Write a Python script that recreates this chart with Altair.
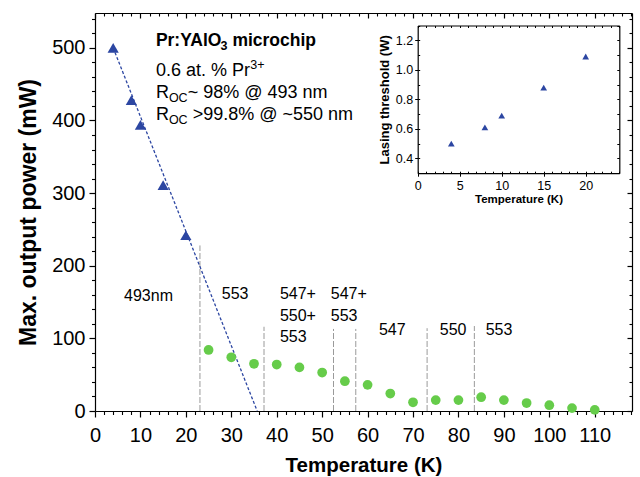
import altair as alt
import pandas as pd

FONT = "Liberation Sans"
BLUE = "#2c46a2"
GREEN = "#66cc4a"

# ---------------- data ----------------
tri_temp = [4, 8, 10, 15, 20]
tri_power = [500, 428, 394, 311, 242]

fit_temp = [4, 35.7]
fit_power = [500, 0]

dot_temp = [25, 30, 35, 40, 45, 50, 55, 60, 65, 70, 75, 80, 85, 90, 95, 100, 105, 110]
dot_power = [84, 74, 65, 64, 60, 53, 41, 36, 24, 12, 15, 15, 19, 15, 11, 8, 4, 1.5]

sep_temp = [23.1, 37.2, 52.5, 57.4, 73.1, 83.5]
sep_top = [228, 116, 113, 113, 114, 117]

wl_text = ["493nm", "553", "547+", "550+", "553", "547+", "553", "547", "550", "553"]
wl_temp = [6.4, 27.9, 40.7, 40.7, 40.7, 51.9, 51.9, 62.5, 75.9, 86.0]
wl_power = [151, 154, 154, 124, 95, 154, 124, 104, 104, 104]

inset_temp = [4, 8, 10, 15, 20]
inset_thr = [0.50, 0.61, 0.69, 0.88, 1.09]

# ---------------- layout ----------------
W, H = 537, 398
XMAX, YMAX = 118.2, 548
UX = XMAX / W   # data units per pixel (x)
UY = YMAX / H   # data units per pixel (y)

xs = alt.Scale(domain=[0, XMAX], nice=False, zero=False)
ys = alt.Scale(domain=[0, YMAX], nice=False, zero=False)

common = dict(grid=False, tickColor="black", domainColor="black",
              labelColor="black", titleColor="black",
              labelFont=FONT, titleFont=FONT)

x_major_vals = list(range(0, 111, 10))
x_minor_vals = [v for v in range(2, 119, 2) if v % 10]
y_major_vals = list(range(0, 501, 100))
y_minor_vals = [v for v in range(20, 548, 20) if v % 100]

ax_x_main = alt.Axis(orient="bottom", values=x_major_vals, tickSize=6, tickWidth=1.2,
                     domainWidth=1.2, labelFontSize=20, labelPadding=8,
                     labelFlush=False, labelOverlap=False,
                     title="Temperature (K)", titleFontSize=20.5, titleFontWeight="bold",
                     titlePadding=10, **common)
ax_y_main = alt.Axis(orient="left", values=y_major_vals, tickSize=6, tickWidth=1.2,
                     domainWidth=1.2, labelFontSize=20, labelPadding=4,
                     labelFlush=False, labelOverlap=False,
                     title="Max. output power (mW)", titleFontSize=23, titleFontWeight="bold",
                     titlePadding=11, **common)
ax_x_minor = alt.Axis(orient="bottom", values=x_minor_vals, tickSize=3.5, tickWidth=1.1,
                      domain=False, labels=False, title=None, **common)
ax_y_minor = alt.Axis(orient="left", values=y_minor_vals, tickSize=3.5, tickWidth=1.1,
                      domain=False, labels=False, title=None, **common)
ax_x_top = alt.Axis(orient="bottom", offset=-H, values=x_major_vals, tickSize=5, tickWidth=1.2,
                    domainWidth=1.2, labels=False, title=None, **common)
ax_x_top_minor = alt.Axis(orient="bottom", offset=-H, values=x_minor_vals, tickSize=3, tickWidth=1.1,
                          domain=False, labels=False, title=None, **common)
ax_y_right = alt.Axis(orient="left", offset=-W, values=y_major_vals, tickSize=5, tickWidth=1.2,
                      domainWidth=1.2, labels=False, title=None, **common)
ax_y_right_minor = alt.Axis(orient="left", offset=-W, values=y_minor_vals, tickSize=3, tickWidth=1.1,
                            domain=False, labels=False, title=None, **common)

dots = pd.DataFrame({"T": dot_temp, "P": dot_power})
tris = pd.DataFrame({"T": tri_temp, "P": tri_power})
fit = pd.DataFrame({"T": fit_temp, "P": fit_power})
seps = pd.DataFrame({"T": sep_temp, "P0": [0] * len(sep_temp), "P1": sep_top})
wls = pd.DataFrame({"T": wl_temp, "P": wl_power, "txt": wl_text})

# annotation block (fragments with sub/superscripts)
ax0 = 13.4
lines_y = [502, 461, 431, 400.5]
frag = [
    # text, line, dx(px), dy(px), size, bold
    ("Pr:YAlO", 0, 0, 0, 17.5, True),
    ("3", 0, 64.5, 4, 12.5, True),
    ("microchip", 0, 76.5, 0, 17.5, True),
    ("0.6 at. % Pr", 1, 0, 0, 18, False),
    ("3+", 1, 94.3, -7, 12.5, False),
    ("R", 2, 0, 0, 18, False),
    ("OC", 2, 13.0, 4, 12.5, False),
    ("~ 98% @ 493 nm", 2, 31.8, 0, 18, False),
    ("R", 3, 0, 0, 18, False),
    ("OC", 3, 13.0, 4, 12.5, False),
    (">99.8% @ ~550 nm", 3, 36.8, 0, 18, False),
]
ann = pd.DataFrame({
    "txt": [f[0] for f in frag],
    "T": [ax0 + f[2] * UX for f in frag],
    "P": [lines_y[f[1]] - f[3] * UY for f in frag],
    "fs": [f[4] for f in frag],
    "bold": [f[5] for f in frag],
})

def X(axis=None):
    return alt.X("T:Q", scale=xs, axis=axis)

def Y(axis=None, field="P"):
    return alt.Y(f"{field}:Q", scale=ys, axis=axis)

l_dots = alt.Chart(dots).mark_circle(size=95, color=GREEN, opacity=1).encode(
    x=X(ax_x_main), y=Y(ax_y_main))
l_fit = alt.Chart(fit).mark_line(color=BLUE, strokeDash=[3, 2], strokeWidth=1.3).encode(
    x=X(), y=Y())
l_tris = alt.Chart(tris).mark_point(shape="triangle-up", size=125, filled=True,
                                     color=BLUE, opacity=1).encode(x=X(), y=Y())
l_seps = alt.Chart(seps).mark_rule(color="#9a9a9a", strokeDash=[6, 2], strokeWidth=1).encode(
    x=X(), y=Y(field="P0"), y2="P1:Q")
l_wl = alt.Chart(wls).mark_text(align="left", baseline="alphabetic", font=FONT,
                                fontSize=16, color="black").encode(
    x=X(), y=Y(), text="txt:N")
l_ann_b = alt.Chart(ann[ann["bold"]]).mark_text(align="left", baseline="alphabetic", font=FONT,
                                                fontWeight="bold", color="black").encode(
    x=X(), y=Y(), text="txt:N", size=alt.Size("fs:Q", scale=None, legend=None))
l_ann_n = alt.Chart(ann[~ann["bold"]]).mark_text(align="left", baseline="alphabetic", font=FONT,
                                                 color="black").encode(
    x=X(), y=Y(), text="txt:N", size=alt.Size("fs:Q", scale=None, legend=None))
l_minor = alt.Chart(dots).mark_point(opacity=0).encode(x=X(ax_x_minor), y=Y(ax_y_minor))
l_frame = alt.Chart(dots).mark_point(opacity=0).encode(x=X(ax_x_top), y=Y(ax_y_right))
l_frame_minor = alt.Chart(dots).mark_point(opacity=0).encode(x=X(ax_x_top_minor), y=Y(ax_y_right_minor))

main = alt.layer(l_seps, l_fit, l_dots, l_tris, l_wl, l_ann_b, l_ann_n,
                 l_minor, l_frame, l_frame_minor).resolve_axis(x="independent", y="independent")

# ---------------- inset ----------------
IX0, IX1 = 322.7, 524.3
IY0, IY1 = 12.5, 160.2
isx = alt.Scale(domain=[0, 24], range=[IX0, IX1], nice=False, zero=False)
isy = alt.Scale(domain=[0.3, 1.3], range=[IY1, IY0], nice=False, zero=False)

ix_major = [0, 5, 10, 15, 20]
ix_minor = list(range(0, 25))
iy_major = [0.4, 0.6, 0.8, 1.0, 1.2]
iy_minor = [round(0.3 + 0.1 * k, 2) for k in range(11)]

ia_bottom = alt.Axis(orient="bottom", offset=IY1 - H, values=ix_major, tickSize=3, tickWidth=1,
                     domainWidth=1.2, labelFontSize=12.5, labelPadding=3, labelFlush=False,
                     title="Temperature (K)", titleFontSize=11.5, titleFontWeight="bold",
                     titlePadding=2, **common)
ia_left = alt.Axis(orient="left", offset=-IX0, values=iy_major, format=".1f", tickSize=3, tickWidth=1,
                   domainWidth=1.2, labelFontSize=12.5, labelPadding=2, labelFlush=False,
                   title="Lasing threshold (W)", titleFontSize=13, titleFontWeight="bold",
                   titlePadding=4, **common)
ia_bottom_in = alt.Axis(orient="top", offset=-IY1, values=ix_minor, tickSize=2, tickWidth=1,
                        domain=False, labels=False, title=None, **common)
ia_left_in = alt.Axis(orient="right", offset=IX0 - W, values=iy_minor, tickSize=2, tickWidth=1,
                      domain=False, labels=False, title=None, **common)
ia_top = alt.Axis(orient="bottom", offset=IY0 - H, values=ix_minor, tickSize=2, tickWidth=1,
                  domainWidth=1.2, labels=False, title=None, **common)
ia_right = alt.Axis(orient="left", offset=-IX1, values=iy_minor, tickSize=2.5, tickWidth=1,
                    domainWidth=1.2, labels=False, title=None, **common)

ins = pd.DataFrame({"T": inset_temp, "L": inset_thr})

def IX(axis=None):
    return alt.X("T:Q", scale=isx, axis=axis)

def IY(axis=None):
    return alt.Y("L:Q", scale=isy, axis=axis)

i_pts = alt.Chart(ins).mark_point(shape="triangle-up", size=45, filled=True, color=BLUE,
                                  opacity=1).encode(x=IX(ia_bottom), y=IY(ia_left))
i_in = alt.Chart(ins).mark_point(opacity=0).encode(x=IX(ia_bottom_in), y=IY(ia_left_in))
i_frame = alt.Chart(ins).mark_point(opacity=0).encode(x=IX(ia_top), y=IY(ia_right))

inset = alt.layer(i_pts, i_in, i_frame).resolve_axis(x="independent", y="independent")

chart = alt.layer(main, inset).resolve_scale(x="independent", y="independent").properties(
    width=W, height=H,
    autosize=alt.AutoSizeParams(type="none"),
    padding={"left": 95, "top": 13, "right": 8, "bottom": 66},
    background="white",
).configure_view(stroke=None)

chart.save("out.html", embed_options={"renderer": "svg", "actions": False})
